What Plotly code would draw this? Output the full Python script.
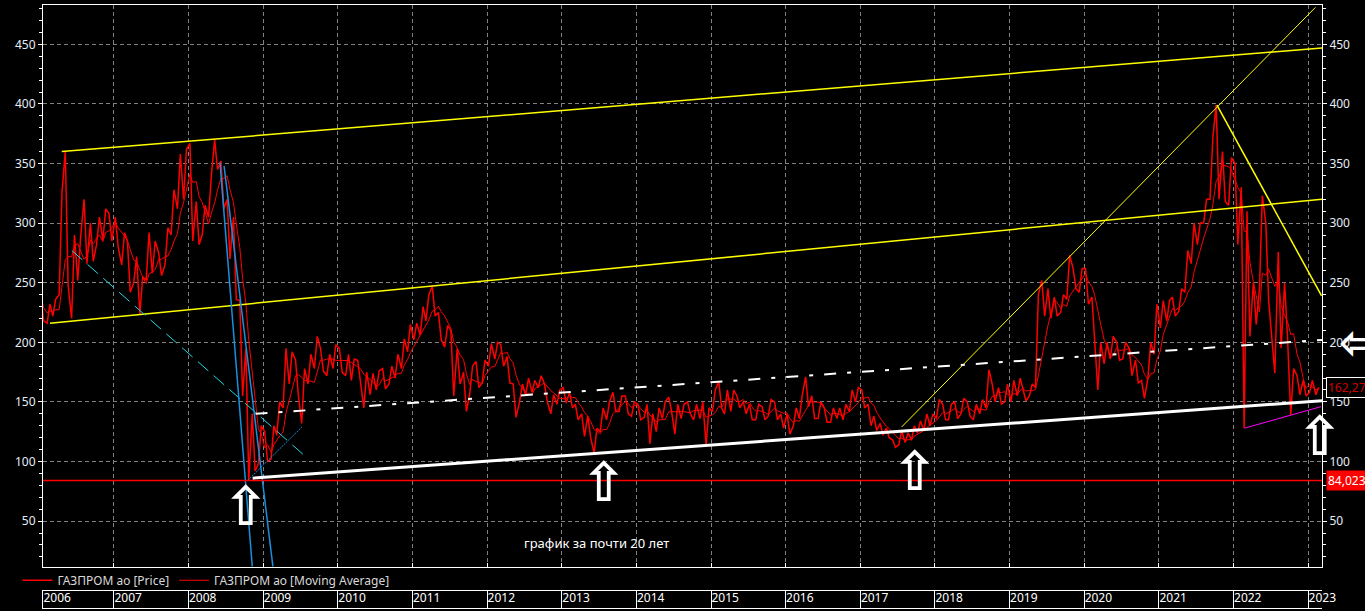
import pandas as pd
import plotly.graph_objects as go

# monthly swings of the price, two readings per month (first half, second half)
price_swings = [
    # 2006
    (240, 218), (216, 232), (222, 236), (240, 326), (360, 248), (220, 290),
    (252, 288), (320, 266), (300, 268), (282, 305), (286, 312), (308, 285),
    # 2007
    (305, 280), (265, 292), (285, 242), (250, 272), (224, 255), (252, 292),
    (258, 285), (275, 256), (265, 296), (290, 328), (312, 358), (320, 362),
    # 2008
    (367, 285), (318, 282), (290, 315), (305, 340), (370, 345), (352, 312),
    (320, 270), (305, 236), (235, 155), (195, 84), (140, 92), (98, 130),
    # 2009
    (125, 100), (102, 130), (122, 150), (145, 195), (165, 192), (185, 155),
    (132, 178), (165, 190), (178, 205), (195, 176), (172, 190), (178, 198),
    # 2010
    (195, 175), (172, 190), (168, 186), (185, 166), (145, 175), (156, 174),
    (160, 176), (178, 161), (165, 180), (170, 190), (178, 203), (192, 215),
    # 2011
    (202, 216), (206, 230), (218, 240), (247, 222), (225, 202), (196, 214),
    (210, 155), (195, 165), (175, 142), (156, 180), (184, 162), (166, 185),
    # 2012
    (180, 199), (186, 200), (198, 180), (188, 166), (165, 137), (150, 165),
    (156, 170), (158, 168), (162, 172), (165, 150), (140, 156), (148, 160),
    # 2013
    (162, 149), (158, 145), (148, 135), (140, 121), (138, 120), (107, 128),
    (125, 145), (135, 150), (158, 142), (142, 155), (155, 140), (138, 150),
    # 2014
    (148, 135), (137, 148), (115, 140), (125, 145), (136, 150), (154, 142),
    (123, 148), (136, 148), (150, 140), (135, 148), (136, 150), (114, 145),
    # 2015
    (142, 160), (167, 145), (140, 160), (142, 160), (155, 145), (150, 140),
    (148, 135), (135, 148), (146, 135), (138, 152), (150, 135), (140, 128),
    # 2016
    (140, 123), (130, 145), (136, 155), (171, 146), (155, 136), (136, 150),
    (145, 133), (133, 145), (136, 145), (135, 148), (142, 160), (150, 162),
    # 2017
    (160, 145), (148, 130), (138, 126), (132, 122), (128, 120), (118, 112),
    (114, 126), (116, 124), (118, 130), (124, 134), (126, 140), (130, 140),
    # 2018
    (136, 152), (148, 135), (135, 148), (150, 136), (140, 153), (150, 138),
    (135, 148), (140, 152), (145, 177), (165, 150), (162, 148), (150, 165),
    # 2019
    (150, 168), (155, 170), (160, 151), (155, 165), (162, 240), (252, 222),
    (245, 220), (238, 222), (225, 240), (236, 273), (262, 245), (242, 262),
    # 2020
    (262, 232), (238, 199), (160, 200), (182, 200), (186, 205), (200, 185),
    (186, 200), (195, 172), (185, 166), (168, 153), (170, 200), (190, 232),
    # 2021
    (212, 235), (218, 235), (238, 222), (226, 245), (242, 277), (266, 300),
    (282, 300), (300, 320), (320, 372), (399, 320), (360, 318), (315, 355),
    # 2022
    (350, 282), (330, 128), (310, 205), (250, 215), (245, 323), (300, 235),
    (205, 174), (276, 195), (250, 205), (139, 178), (172, 156), (168, 155),
    # 2023
    (158, 168), (156, 162.27),
]

ma_window = 6
support_level = 84.0239
last_price = 162.27

# drawn trend lines: (date, price) end points
channel_top = [("2006-04-21", 360), ("2023-03-10", 447)]
channel_bottom = [("2006-02-22", 216), ("2023-03-10", 320)]
rally_line = [("2017-07-22", 129), ("2023-02-06", 481)]
fall_line = [("2021-10-12", 399), ("2023-03-08", 239)]
support_line = [("2008-11-10", 86), ("2023-03-10", 151)]
mid_line = [("2008-11-24", 140), ("2023-03-10", 202)]
early_fall = [("2006-06-09", 277), ("2009-07-28", 104)]
crash_a = [("2008-06-03", 351), ("2008-11-08", 12)]
crash_b = [("2008-06-23", 348), ("2009-02-17", 12)]
rebound_line = [("2008-10-16", 84), ("2009-07-09", 129)]
recent_low = [("2022-02-24", 128), ("2023-03-05", 146)]

# white arrows pointing at the lows
arrow_points = [("2008-10-08", 62), ("2013-07-22", 82), ("2017-09-23", 92), ("2023-02-24", 121)]

x_range = ["2006-01-19", "2023-03-10"]
y_range = [11.5, 483]
year_labels = [str(y) for y in range(2006, 2024)]

note = "график за почти 20 лет"
name_price = "ГАЗПРОМ ао [Price]"
name_ma = "ГАЗПРОМ ао [Moving Average]"

FONT = "Noto Sans"
GRID = "#808080"

months = pd.date_range("2006-01-01", periods=len(price_swings), freq="MS")
px_x, px_y = [], []
for m, (a, b) in zip(months, price_swings):
    px_x += [m + pd.Timedelta(days=7), m + pd.Timedelta(days=21)]
    px_y += [a, b]
ma_y = pd.Series(px_y).rolling(ma_window, min_periods=1).mean()

fig = go.Figure()

fig.add_trace(go.Scatter(x=px_x, y=px_y, mode="lines", name=name_price,
                         line=dict(color="#ff0000", width=1.5)))
fig.add_trace(go.Scatter(x=px_x, y=ma_y, mode="lines", name=name_ma,
                         line=dict(color="#ff0000", width=1)))


def seg(points, color, width, dash="solid"):
    fig.add_trace(go.Scatter(
        x=[p[0] for p in points], y=[p[1] for p in points], mode="lines",
        line=dict(color=color, width=width, dash=dash),
        showlegend=False, hoverinfo="skip"))


seg(channel_top, "#ffff00", 1.5)
seg(channel_bottom, "#ffff00", 1.5)
seg(rally_line, "#ffff00", 1)
seg(fall_line, "#ffff00", 1.5)
seg(early_fall, "#22d8e8", 1, "14px,7px")
seg(crash_a, "#1a8fe0", 1.5)
seg(crash_b, "#1a8fe0", 1.5)
seg(rebound_line, "#1a8fe0", 1, "2px,1px")
seg(recent_low, "#ff00ff", 1)
seg(mid_line, "#ffffff", 2, "12px,11px,4px,11px")
seg(support_line, "#ffffff", 3)

# support level drawn on the right-hand axis
fig.add_trace(go.Scatter(x=x_range, y=[support_level, support_level], mode="lines",
                         line=dict(color="#ff0000", width=1.5), yaxis="y3",
                         showlegend=False, hoverinfo="skip"))

# year strip under the chart
year_ticks = [pd.Timestamp(x_range[0])] + list(pd.date_range("2007-01-01", "2023-01-01", freq="YS"))
fig.add_trace(go.Scatter(x=year_ticks, y=[0.5] * len(year_ticks), mode="markers",
                         marker=dict(opacity=0), xaxis="x2", yaxis="y2",
                         showlegend=False, hoverinfo="skip"))

for d, v in arrow_points:
    fig.add_annotation(x=d, y=v, text="<b>⇧</b>", showarrow=False,
                       font=dict(family="DejaVu Sans", size=54, color="#ffffff"))
fig.add_annotation(xref="paper", x=1.012, xanchor="left", y=200, text="<b>⇦</b>",
                   showarrow=False,
                   font=dict(family="DejaVu Sans", size=48, color="#ffffff"))

fig.add_annotation(xref="paper", x=0.433, y=31.6, text=note, showarrow=False,
                   font=dict(family=FONT, size=13, color="#ffffff"))

fig.add_annotation(xref="paper", x=1, xanchor="left", xshift=4, y=last_price,
                   text=f"{last_price:.2f}".replace(".", ","), showarrow=False,
                   font=dict(family=FONT, size=12, color="#d00000"),
                   bgcolor="#000000", bordercolor="#ffffff", borderwidth=1, borderpad=1)
fig.add_annotation(xref="paper", x=1, xanchor="left", xshift=4, y=support_level,
                   text=f"{support_level}".replace(".", ","), showarrow=False,
                   font=dict(family=FONT, size=12, color="#ffffff"),
                   bgcolor="#ff0000", borderpad=1)

yax = dict(
    range=y_range, dtick=50, tick0=0,
    ticks="outside", ticklen=4, tickcolor="#ffffff",
    minor=dict(dtick=10, ticks="outside", ticklen=3, tickcolor="#ffffff", showgrid=False),
    showline=True, linecolor="#ffffff", zeroline=False,
    tickfont=dict(family=FONT, size=12, color="#e6eef8"),
)

fig.update_layout(
    width=1365, height=611,
    margin=dict(l=43, r=43, t=5, b=3),
    paper_bgcolor="#000000", plot_bgcolor="#000000",
    font=dict(family=FONT, color="#ffffff"),
    showlegend=True,
    legend=dict(orientation="h", x=-0.02, xanchor="left", y=0.046, yanchor="middle",
                font=dict(family=FONT, size=12, color="#d8d8d8"),
                bgcolor="rgba(0,0,0,0)", itemwidth=30),
    xaxis=dict(type="date", range=x_range, anchor="y",
               dtick="M12", tick0="2006-01-01",
               showgrid=True, gridcolor=GRID, griddash="4px,3px",
               ticks="inside", ticklen=4, tickcolor="#ffffff",
               showticklabels=False, showline=True, mirror=True,
               linecolor="#ffffff", zeroline=False),
    yaxis=dict(domain=[0.068, 1], showgrid=True, gridcolor=GRID,
               griddash="4px,3px", **yax),
    yaxis3=dict(overlaying="y", side="right", showgrid=False, **yax),
    xaxis2=dict(type="date", range=x_range, anchor="y2", matches="x",
                tickmode="array", tickvals=year_ticks, ticktext=year_labels,
                showgrid=True, gridcolor="#ffffff", gridwidth=1,
                ticks="", ticklabelposition="inside right", ticklabeloverflow="allow",
                tickfont=dict(family=FONT, size=12, color="#ffffff"),
                showline=True, mirror=True, linecolor="#ffffff", zeroline=False),
    yaxis2=dict(domain=[0, 0.0282], range=[0, 1], showgrid=False, zeroline=False,
                showticklabels=False, ticks="", showline=True, linecolor="#ffffff"),
)

fig.write_html("out.html", config={"displayModeBar": False},
               post_script="document.body.style.margin='0px';")
